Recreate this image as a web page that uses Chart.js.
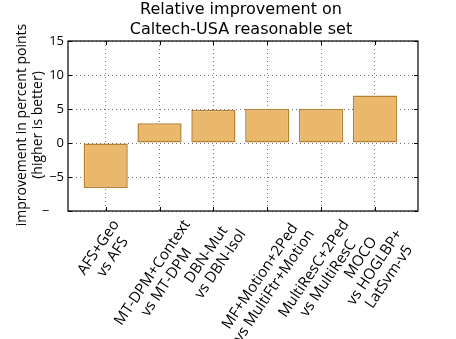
<!DOCTYPE html>
<html>
<head>
<meta charset="utf-8">
<script src="https://cdn.jsdelivr.net/npm/chart.js@4"></script>
<style>
  body { margin: 0; background: #fff; }
</style>
</head>
<body>
<canvas id="chart" width="456" height="339"></canvas>
<script>
const categories = [
  "AFS+Geo\nvs AFS",
  "MT-DPM+Context\nvs MT-DPM",
  "DBN-Mut\nvs DBN-Isol",
  "MF+Motion+2Ped\nvs MultiFtr+Motion",
  "MultiResC+2Ped\nvs MultiResC",
  "MOCO\nvs HOGLBP+\nLatSvm-v5"
];
const improvement = [-6.6, 2.9, 4.9, 5.0, 5.0, 7.0];
const yTicks = [-10, -5, 0, 5, 10, 15];

const titleLines = ["Relative improvement on", "Caltech-USA reasonable set"];
const yTitleLines = ["improvement in percent points", "(higher is better)"];

const rot = 56 * Math.PI / 180;

// frame, inward ticks, titles and rotated x labels
const decorations = {
  id: "decorations",
  afterDraw(chart) {
    const ctx = chart.ctx;
    const a = chart.chartArea;
    const xs = chart.scales.x;
    const ys = chart.scales.y;
    ctx.save();

    // frame
    ctx.strokeStyle = "#000";
    ctx.lineWidth = 1.2;
    ctx.strokeRect(a.left, a.top, a.right - a.left, a.bottom - a.top);

    // inward ticks
    ctx.lineWidth = 1;
    ctx.beginPath();
    categories.forEach((c, i) => {
      const x = Math.round(xs.getPixelForValue(i)) + 0.5;
      ctx.moveTo(x, a.bottom); ctx.lineTo(x, a.bottom - 4);
      ctx.moveTo(x, a.top); ctx.lineTo(x, a.top + 4);
    });
    yTicks.forEach(v => {
      const y = Math.round(ys.getPixelForValue(v)) + 0.5;
      ctx.moveTo(a.left, y); ctx.lineTo(a.left + 4, y);
      ctx.moveTo(a.right, y); ctx.lineTo(a.right - 4, y);
    });
    ctx.stroke();

    ctx.fillStyle = "#000";

    // title
    ctx.font = "16px 'DejaVu Sans'";
    ctx.textAlign = "center";
    ctx.textBaseline = "alphabetic";
    ctx.fillText(titleLines[0], 241, 14);
    ctx.fillText(titleLines[1], 241, 34);

    // y axis title
    ctx.save();
    ctx.translate(0, 125);
    ctx.rotate(-Math.PI / 2);
    ctx.font = "14px 'Open Sans'";
    ctx.textBaseline = "middle";
    ctx.fillText(yTitleLines[0], 0, 22);
    ctx.fillText(yTitleLines[1], 0, 38);
    ctx.restore();

    // x labels, centred block rotated
    ctx.font = "15px 'Open Sans'";
    const lh = 17;
    categories.forEach((c, i) => {
      const lines = c.split("\n");
      const W = Math.max(...lines.map(l => ctx.measureText(l).width));
      const H = lines.length * lh;
      const halfH = (W * Math.sin(rot) + H * Math.cos(rot)) / 2;
      const cx = xs.getPixelForValue(i);
      const cy = a.bottom + 6 + halfH;
      ctx.save();
      ctx.translate(cx, cy);
      ctx.rotate(-rot);
      ctx.textAlign = "center";
      ctx.textBaseline = "middle";
      lines.forEach((l, j) => ctx.fillText(l, 0, -H / 2 + lh * (j + 0.5)));
      ctx.restore();
    });

    ctx.restore();
  }
};

const gridStyle = {
  color: "rgba(0,0,0,0.55)",
  lineWidth: 1,
  drawTicks: false
};

new Chart(document.getElementById("chart"), {
  type: "bar",
  data: {
    datasets: [{
      data: improvement.map((v, i) => ({ x: i, y: v })),
      backgroundColor: "rgba(234,184,108,1)",
      borderColor: "#b5812f",
      borderWidth: 1.5,
      borderSkipped: false,
      barPercentage: 0.82,
      categoryPercentage: 1.0
    }]
  },
  options: {
    responsive: false,
    animation: false,
    layout: { padding: { left: 0, right: 38, top: 41, bottom: 0 } },
    plugins: { legend: { display: false }, tooltip: { enabled: false } },
    scales: {
      x: {
        type: "linear",
        min: -0.7,
        max: 5.8,
        offset: false,
        z: 1,
        grid: { ...gridStyle, offset: false },
        border: { display: false, dash: [1, 3] },
        ticks: { display: false },
        afterBuildTicks(scale) {
          scale.ticks = categories.map((c, i) => ({ value: i }));
        },
        afterFit(scale) { scale.height = 128; }
      },
      y: {
        min: -10,
        max: 15,
        z: 1,
        grid: gridStyle,
        border: { display: false, dash: [1, 3] },
        ticks: {
          stepSize: 5,
          padding: 4,
          color: "#000",
          font: { family: "'Open Sans'", size: 13 },
          callback: v => v === -10 ? "\u2212\u2007\u2007" : (v < 0 ? "\u2212" + Math.abs(v) : String(v))
        },
        afterFit(scale) { scale.width = 68; }
      }
    }
  },
  plugins: [decorations]
});
</script>
</body>
</html>
